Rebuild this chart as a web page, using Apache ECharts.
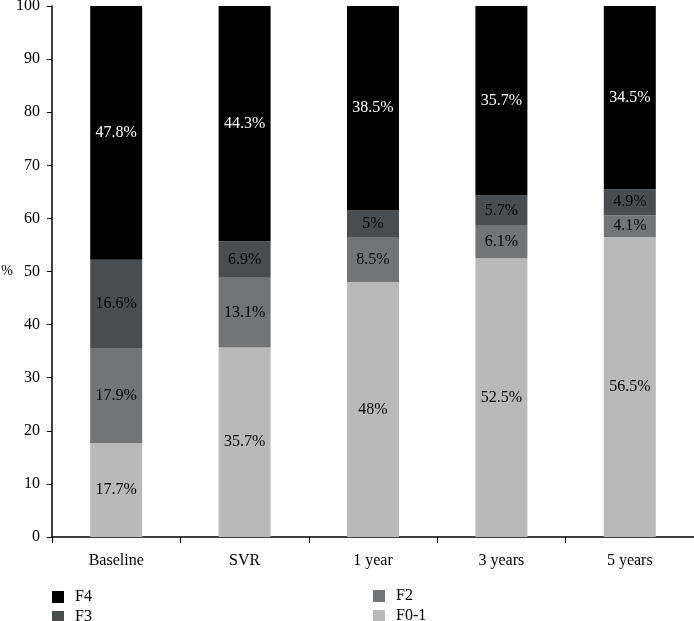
<!DOCTYPE html>
<html><head><meta charset="utf-8">
<script src="https://cdn.jsdelivr.net/npm/echarts@6/dist/echarts.min.js"></script>
<style>html,body{margin:0;padding:0;background:#fff}#c{width:694px;height:621px}</style>
</head><body><div id="c"></div>
<script>
const categories = ['Baseline', 'SVR', '1 year', '3 years', '5 years'];
const f01 = [17.7, 35.7, 48, 52.5, 56.5];
const f2 = [17.9, 13.1, 8.5, 6.1, 4.1];
const f3 = [16.6, 6.9, 5, 5.7, 4.9];
const f4 = [47.8, 44.3, 38.5, 35.7, 34.5];
const yTicks = [0, 10, 20, 30, 40, 50, 60, 70, 80, 90, 100];

const FONT = '"Liberation Serif", "DejaVu Serif", serif';
const chart = echarts.init(document.getElementById('c'), null, {renderer: 'canvas'});
function ser(name, data, color, labelColor) {
  return {
    name, type: 'bar', stack: 'a', data, barWidth: 52,
    itemStyle: {color},
    label: {show: true, position: 'inside', color: labelColor, fontFamily: FONT, fontSize: 16,
      formatter: p => p.value + '%'}
  };
}
const legendText = {fontFamily: FONT, fontSize: 16, lineHeight: 12, color: '#000', padding: [0, 0, 0, 6]};
function leg(name, left, top) {
  return {left, top, padding: 0, icon: 'rect', itemWidth: 12, itemHeight: 12, data: [name], textStyle: legendText};
}
chart.setOption({
  animation: false,
  textStyle: {fontFamily: FONT},
  grid: {left: 52, right: 0, top: 6, bottom: 84, containLabel: false, outerBoundsMode: 'none'},
  xAxis: {
    type: 'category', data: categories,
    axisLine: {lineStyle: {color: '#000', width: 1.5}},
    axisTick: {show: true, alignWithLabel: false, length: 6, lineStyle: {color: '#000'}},
    axisLabel: {color: '#000', fontFamily: FONT, fontSize: 16, margin: 16}
  },
  yAxis: {
    type: 'value', min: yTicks[0], max: yTicks[yTicks.length - 1], interval: 10,
    name: '%', nameLocation: 'middle', nameRotate: 0, nameGap: 39, nameMoveOverlap: false,
    nameTextStyle: {color: '#000', fontFamily: FONT, fontSize: 14},
    axisLine: {show: true, lineStyle: {color: '#000', width: 1.5}},
    axisTick: {show: true, length: 5, lineStyle: {color: '#000'}},
    splitLine: {show: false},
    axisLabel: {color: '#000', fontFamily: FONT, fontSize: 16, margin: 12}
  },
  legend: [
    leg('F4', 52, 589), leg('F3', 52, 609),
    leg('F2', 373, 588), leg('F0-1', 373, 608)
  ],
  series: [
    ser('F0-1', f01, '#b9b9ba', '#000'),
    ser('F2', f2, '#737475', '#000'),
    ser('F3', f3, '#4a4d50', '#000'),
    ser('F4', f4, '#000000', '#fff')
  ]
});
</script></body></html>
